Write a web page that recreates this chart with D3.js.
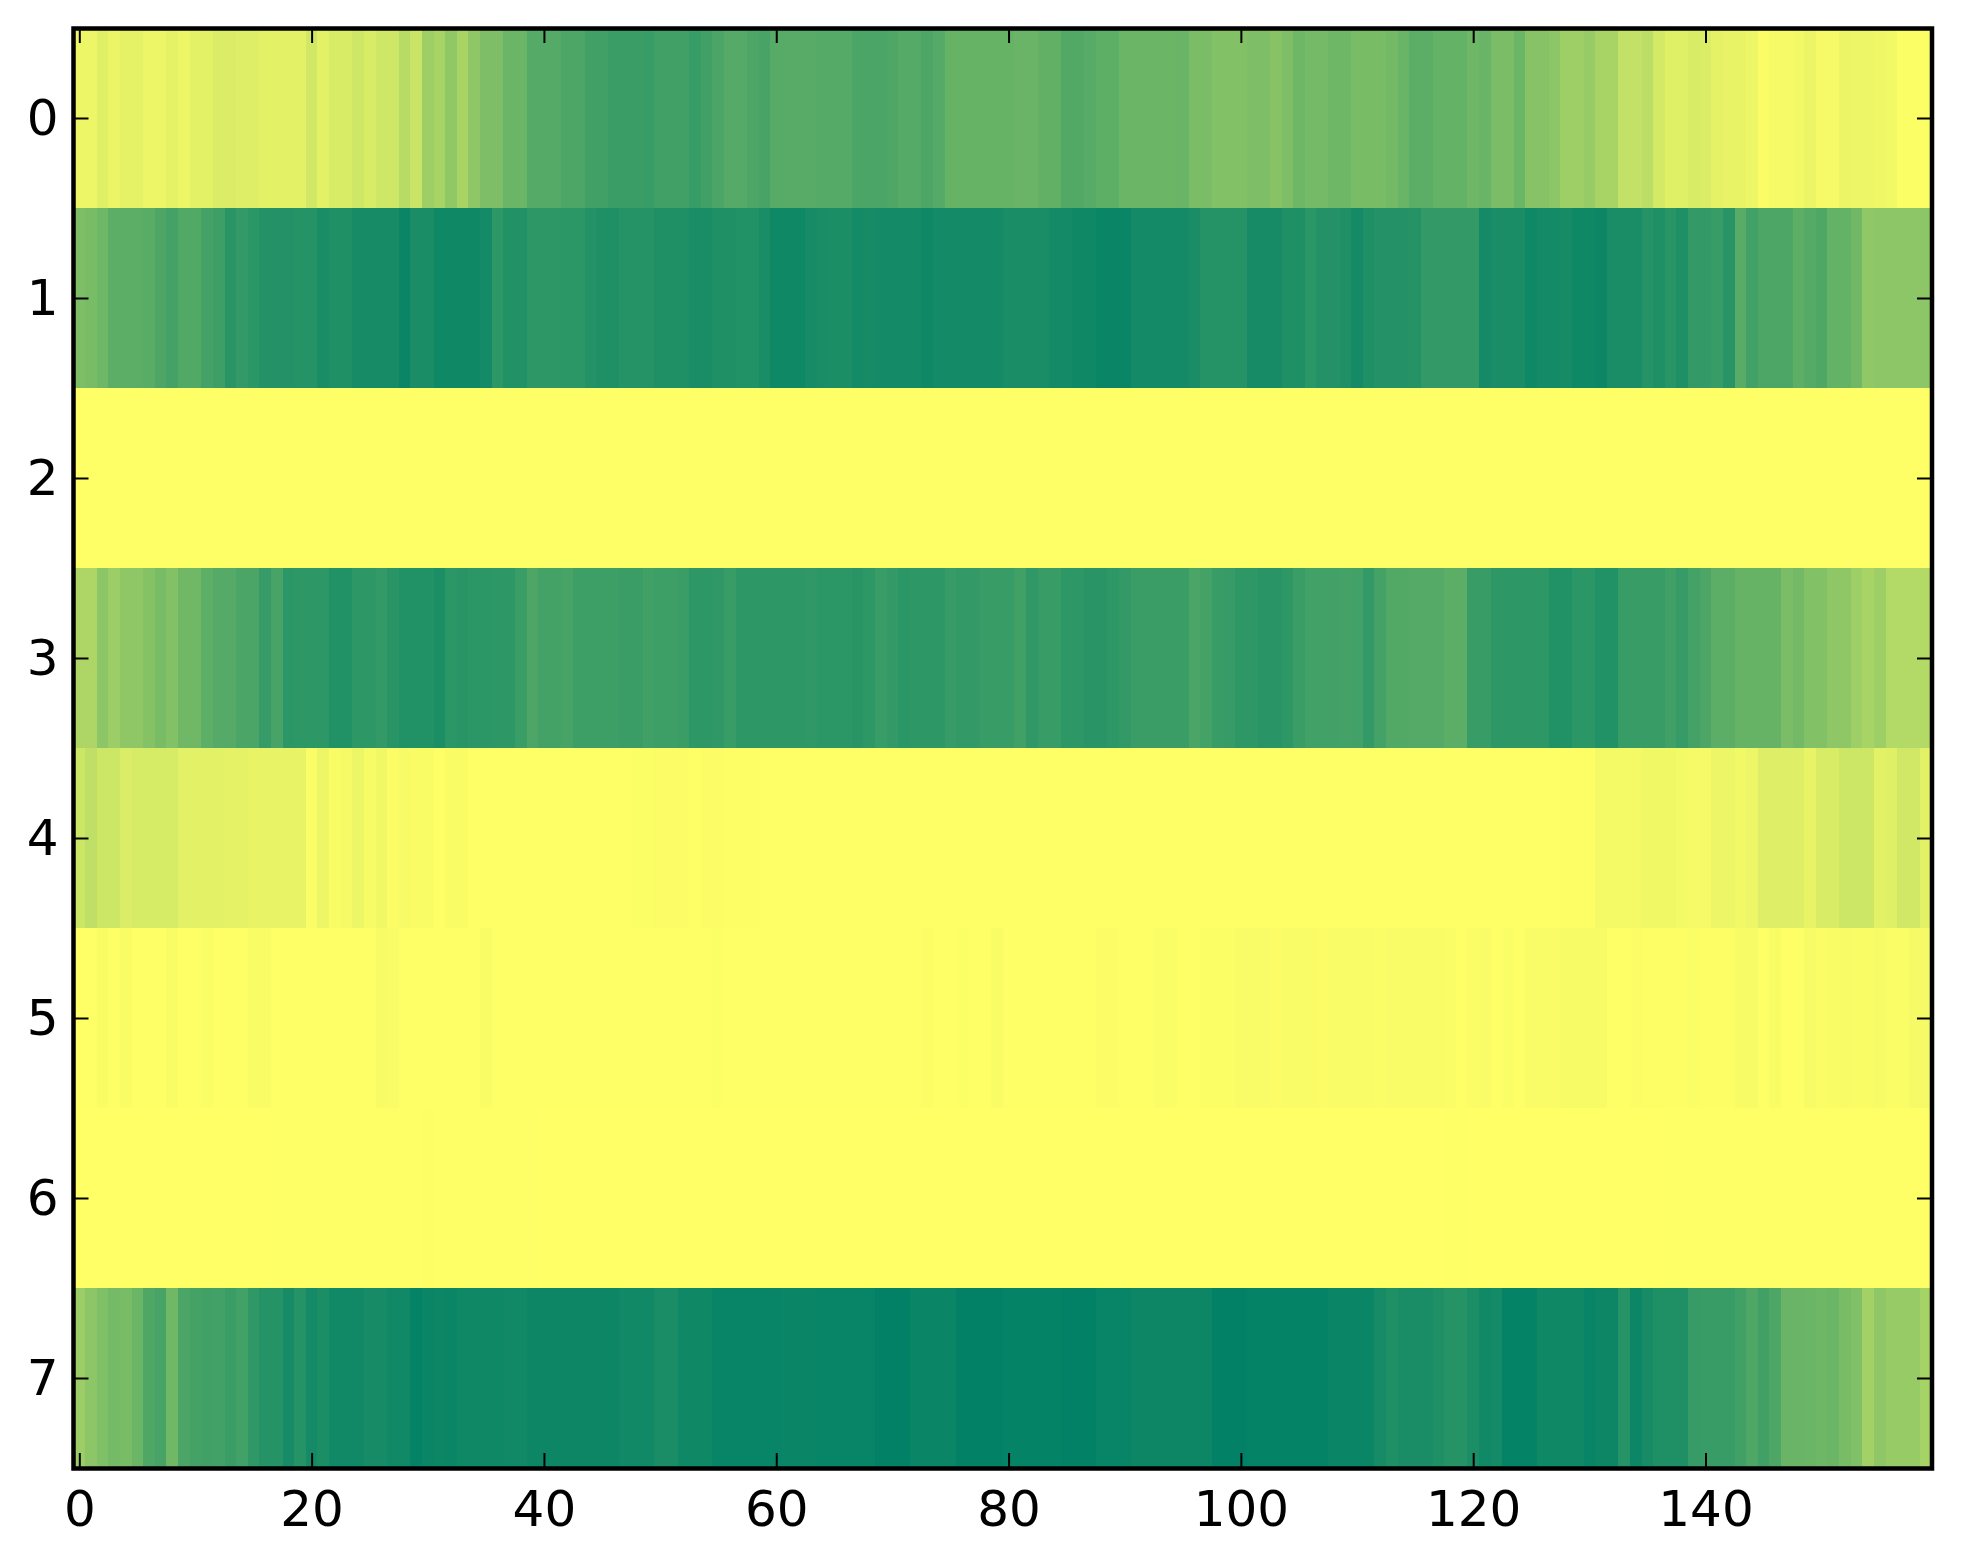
<!DOCTYPE html>
<html>
<head>
<meta charset="utf-8">
<script src="https://cdn.jsdelivr.net/npm/d3@7"></script>
<style>
body { margin: 0; background: white; }
svg { display: block; }
</style>
</head>
<body>
<script>
var xTicks = [0, 20, 40, 60, 80, 100, 120, 140];
var yTicks = [0, 1, 2, 3, 4, 5, 6, 7];

var row0 = [.07,.07,.12,.08,.10,.10,.07,.07,.10,.07,
  .11,.11,.14,.14,.13,.13,.11,.11,.11,.11,
  .18,.11,.15,.15,.19,.15,.19,.19,.28,.21,
  .38,.34,.43,.34,.44,.51,.51,.58,.58,.67,
  .67,.67,.70,.70,.75,.75,.77,.77,.77,.78,
  .75,.75,.75,.78,.75,.71,.67,.67,.70,.72,
  .66,.66,.66,.66,.67,.67,.67,.71,.71,.71,
  .69,.67,.67,.70,.67,.60,.60,.60,.60,.60,
  .60,.59,.59,.62,.62,.68,.68,.66,.63,.63,
  .58,.58,.58,.58,.58,.59,.52,.52,.49,.49,
  .49,.51,.51,.47,.51,.57,.54,.54,.57,.57,
  .53,.53,.53,.55,.59,.64,.64,.61,.61,.61,
  .57,.59,.52,.52,.58,.47,.47,.45,.38,.38,
  .41,.34,.34,.24,.24,.26,.17,.12,.12,.15,
  .14,.10,.09,.09,.07,.015,.04,.04,.05,.08,
  .04,.04,.08,.07,.07,.06,.05,.01,.01,.01];

var row1 = [.51,.53,.57,.64,.64,.64,.65,.70,.73,.68,
  .68,.73,.76,.84,.80,.83,.86,.86,.86,.85,
  .85,.90,.88,.88,.91,.91,.91,.91,.96,.90,
  .90,.94,.94,.94,.94,.92,.82,.87,.87,.82,
  .82,.82,.83,.83,.86,.88,.88,.85,.85,.85,
  .88,.88,.88,.90,.90,.88,.88,.87,.87,.90,
  .94,.94,.94,.91,.90,.89,.89,.92,.91,.92,
  .92,.92,.92,.94,.92,.92,.92,.92,.92,.92,
  .90,.90,.90,.90,.92,.92,.94,.94,.96,.96,
  .96,.92,.92,.92,.92,.92,.90,.85,.85,.85,
  .85,.91,.91,.91,.88,.88,.83,.86,.86,.88,
  .92,.88,.86,.86,.86,.85,.80,.80,.80,.80,
  .80,.92,.90,.90,.90,.94,.92,.92,.91,.94,
  .94,.95,.90,.90,.90,.85,.88,.84,.88,.80,
  .80,.78,.84,.65,.74,.70,.70,.70,.63,.67,
  .69,.61,.61,.56,.43,.45,.45,.45,.45,.45];

var row2 = [.002,.002,.002,.002,.002,.002,.002,.002,.002,.002,
  .002,.002,.002,.002,.002,.002,.002,.002,.002,.002,
  .002,.002,.002,.002,.002,.002,.002,.002,.002,.004,
  .004,.004,.004,.004,.004,.004,.004,.002,.002,.002,
  .002,.002,.002,.002,.002,.002,.002,.002,.002,.002,
  .002,.002,.002,.002,.002,.002,.002,.002,.002,.002,
  .002,.002,.002,.002,.002,.002,.002,.002,.002,.002,
  .002,.002,.002,.002,.002,.002,.002,.002,.002,.002,
  .002,.002,.002,.002,.002,.002,.002,.002,.002,.002,
  .002,.002,.002,.002,.002,.002,.002,.002,.004,.002,
  .002,.002,.002,.002,.002,.002,.002,.002,.002,.002,
  .002,.002,.002,.002,.002,.002,.002,.002,.002,.002,
  .002,.002,.002,.002,.002,.002,.002,.002,.002,.002,
  .002,.002,.002,.002,.002,.002,.002,.002,.002,.002,
  .002,.002,.002,.002,.002,.002,.002,.002,.002,.002,
  .002,.002,.002,.002,.002,.002,.002,.002,.002,.002];

var row3 = [.32,.32,.45,.39,.44,.44,.48,.53,.49,.56,
  .56,.63,.67,.67,.71,.71,.79,.72,.83,.82,
  .82,.82,.87,.87,.82,.82,.80,.84,.87,.87,
  .87,.89,.83,.84,.83,.83,.82,.82,.77,.70,
  .73,.73,.72,.76,.76,.76,.76,.77,.77,.75,
  .76,.76,.77,.82,.82,.81,.78,.82,.82,.82,
  .82,.82,.82,.81,.83,.83,.83,.84,.82,.78,
  .80,.83,.82,.82,.82,.79,.80,.80,.78,.78,
  .78,.75,.81,.78,.78,.82,.82,.84,.84,.82,
  .80,.77,.77,.77,.77,.77,.71,.73,.78,.79,
  .82,.82,.84,.84,.82,.77,.74,.74,.74,.73,
  .74,.80,.73,.68,.68,.67,.67,.67,.64,.64,
  .78,.78,.82,.82,.82,.82,.82,.87,.87,.83,
  .83,.87,.87,.78,.78,.78,.78,.75,.79,.73,
  .70,.64,.64,.60,.60,.60,.60,.52,.55,.49,
  .49,.44,.44,.38,.34,.38,.30,.30,.30,.30];

var row4 = [.20,.25,.20,.20,.14,.16,.16,.16,.16,.11,
  .11,.11,.11,.10,.10,.09,.09,.09,.09,.09,
  .015,.07,.02,.04,.07,.035,.055,.012,.035,.02,
  .02,.005,.02,.02,.005,.005,.004,.004,.004,.004,
  .003,.003,.003,.003,.003,.003,.003,.003,.01,.01,
  .012,.012,.012,.005,.012,.012,.008,.008,.008,.003,
  .003,.003,.003,.003,.003,.003,.003,.003,.003,.003,
  .003,.003,.003,.003,.003,.003,.003,.003,.003,.003,
  .003,.003,.003,.003,.003,.003,.003,.003,.003,.003,
  .003,.003,.003,.003,.003,.003,.003,.003,.003,.003,
  .003,.003,.003,.003,.003,.003,.003,.003,.003,.003,
  .003,.003,.003,.003,.003,.003,.003,.003,.003,.003,
  .003,.003,.003,.003,.003,.003,.003,.003,.007,.007,
  .007,.045,.045,.045,.045,.055,.055,.055,.045,.04,
  .04,.07,.07,.05,.07,.13,.13,.13,.13,.09,
  .15,.15,.20,.20,.20,.11,.12,.18,.18,.11];

var row5 = [.003,.005,.02,.005,.02,.003,.003,.003,.02,.003,
  .003,.015,.003,.003,.003,.02,.02,.003,.003,.005,
  .003,.003,.003,.003,.003,.003,.03,.025,.003,.005,
  .005,.003,.003,.003,.003,.02,.003,.003,.003,.003,
  .003,.003,.003,.003,.003,.003,.003,.003,.003,.003,
  .003,.003,.003,.003,.003,.01,.003,.003,.003,.003,
  .003,.003,.003,.003,.003,.003,.003,.003,.003,.003,
  .003,.003,.005,.012,.003,.003,.01,.003,.003,.02,
  .003,.003,.005,.003,.003,.005,.003,.003,.012,.012,
  .005,.005,.005,.016,.016,.005,.003,.01,.01,.01,
  .022,.022,.022,.012,.022,.022,.022,.012,.022,.022,
  .022,.022,.018,.022,.022,.022,.022,.022,.015,.002,
  .015,.022,.003,.015,.003,.022,.022,.022,.035,.035,
  .035,.035,.003,.003,.012,.008,.008,.008,.008,.015,
  .008,.008,.008,.035,.035,.003,.02,.003,.003,.03,
  .015,.02,.028,.02,.02,.03,.015,.015,.04,.04];

var row6 = [.001,.001,.001,.001,.001,.001,.001,.001,.001,.001,
  .001,.001,.001,.001,.001,.001,.001,.003,.003,.003,
  .003,.003,.003,.003,.003,.003,.003,.005,.003,.003,
  .006,.002,.002,.002,.002,.002,.002,.002,.002,.002,
  .001,.001,.001,.001,.001,.001,.001,.001,.001,.001,
  .001,.001,.001,.001,.001,.001,.001,.001,.001,.001,
  .001,.001,.001,.001,.001,.001,.001,.001,.001,.001,
  .001,.001,.001,.001,.001,.001,.001,.001,.001,.001,
  .001,.001,.001,.001,.001,.001,.001,.001,.001,.001,
  .001,.001,.001,.001,.001,.001,.001,.001,.001,.001,
  .001,.001,.001,.001,.001,.001,.001,.001,.001,.001,
  .001,.001,.001,.001,.001,.001,.001,.001,.002,.004,
  .001,.001,.001,.001,.001,.001,.001,.001,.001,.001,
  .001,.001,.001,.001,.001,.001,.001,.002,.002,.002,
  .002,.002,.002,.002,.002,.002,.002,.002,.002,.002,
  .002,.002,.002,.002,.002,.002,.002,.002,.002,.002];

var row7 = [.39,.45,.50,.54,.53,.58,.69,.72,.56,.71,
  .73,.75,.74,.77,.74,.81,.85,.85,.91,.85,
  .92,.89,.93,.93,.93,.91,.91,.93,.93,.98,
  .96,.95,.96,.94,.94,.94,.94,.93,.93,.95,
  .95,.95,.95,.95,.95,.95,.95,.93,.93,.93,
  .90,.90,.94,.94,.94,.97,.97,.97,.97,.97,
  .97,.96,.96,.96,.97,.97,.97,.97,.97,.99,
  .99,.99,.96,.96,.96,.96,.99,.99,.99,.99,
  .98,.98,.98,.98,.98,.99,.99,.99,.97,.97,
  .97,.95,.95,.95,.95,.95,.95,.95,.99,.99,
  .99,.98,.98,.98,.98,.98,.98,.98,.96,.96,
  .96,.96,.91,.88,.90,.90,.90,.88,.85,.85,
  .89,.93,.92,.98,.98,.98,.94,.94,.94,.94,
  .97,.95,.95,.85,.95,.91,.88,.88,.88,.79,
  .78,.78,.78,.75,.69,.75,.70,.59,.59,.58,
  .57,.58,.53,.50,.36,.44,.41,.41,.41,.35];

var rows = [row0, row1, row2, row3, row4, row5, row6, row7];

var width = 1963;
var height = 1564;
var margin = {left: 73.5, top: 28, right: 31, bottom: 96};

var svg = d3.select("body").append("svg").attr("width", width).attr("height", height);

var scaleX = d3.scaleLinear().domain([-0.5, 159.5]).range([margin.left, width - margin.right]);
var scaleY = d3.scaleLinear().domain([-0.5, 7.5]).range([margin.top, height - margin.bottom]);

// summer_r
var scaleColor = d3.scaleLinear().domain([0, 1]).range(["#ffff66", "#008066"]);

var rowGroups = svg.append("g").selectAll("g")
    .data(rows)
    .enter().append("g")
    .attr("class", "row");

rowGroups.each(function(row, r) {
    d3.select(this).selectAll("rect")
        .data(row)
        .enter().append("rect")
        .attr("x", function(d, i) { return scaleX(i - 0.5); })
        .attr("y", scaleY(r - 0.5))
        .attr("width", scaleX(1) - scaleX(0) + 0.5)
        .attr("height", scaleY(1) - scaleY(0))
        .attr("fill", function(d) { return scaleColor(d); })
        .attr("shape-rendering", "crispEdges");
});

var axes = [
    {axis: d3.axisBottom(scaleX).tickValues(xTicks).tickPadding(22), y: height - margin.bottom, x: 0},
    {axis: d3.axisTop(scaleX).tickValues(xTicks).tickFormat(""), y: margin.top, x: 0},
    {axis: d3.axisLeft(scaleY).tickValues(yTicks).tickPadding(15), y: 0, x: margin.left},
    {axis: d3.axisRight(scaleY).tickValues(yTicks).tickFormat(""), y: 0, x: width - margin.right}
];

axes.forEach(function(a) {
    a.axis.tickSizeInner(-15).tickSizeOuter(0);
    var g = svg.append("g")
        .attr("transform", "translate(" + a.x + "," + a.y + ")")
        .call(a.axis);
    g.selectAll(".tick line").attr("stroke", "black").attr("stroke-width", 2);
    g.select(".domain").remove();
    g.selectAll("text")
        .attr("fill", "black")
        .style("font-family", "'DejaVu Sans'")
        .style("font-size", "50px");
});

svg.append("rect")
    .attr("x", margin.left)
    .attr("y", margin.top + 0.5)
    .attr("width", width - margin.left - margin.right)
    .attr("height", height - margin.top - margin.bottom)
    .attr("fill", "none")
    .attr("stroke", "black")
    .attr("stroke-width", 4.5);
</script>
</body>
</html>
